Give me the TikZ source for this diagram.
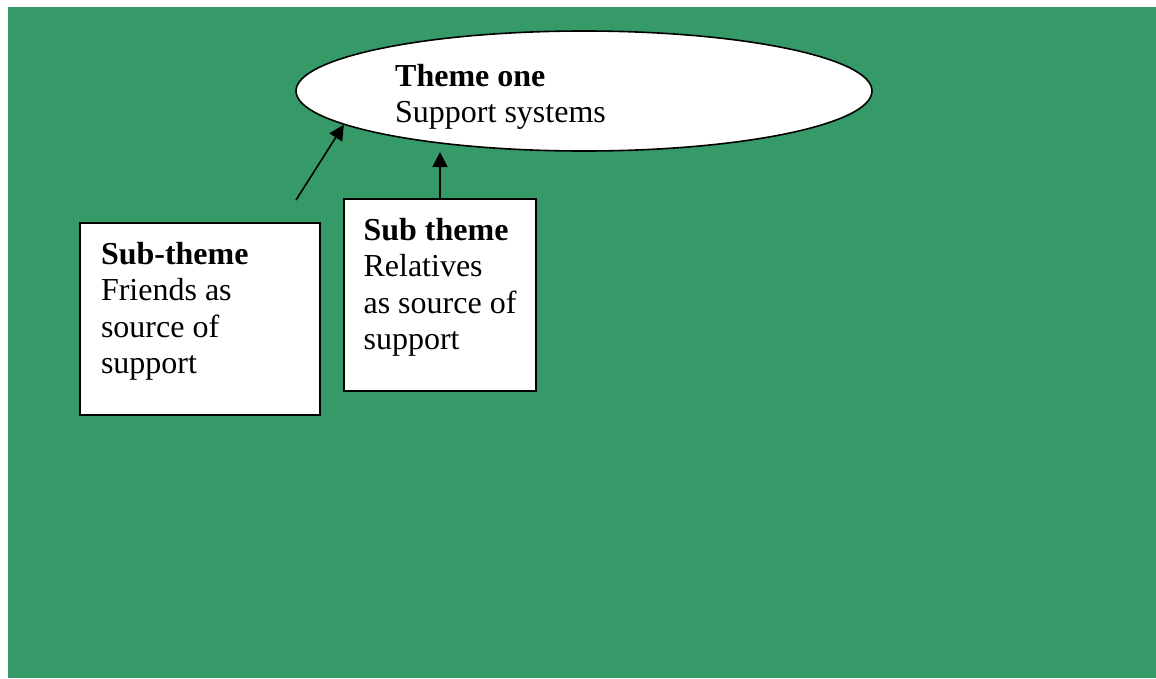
\documentclass[tikz,border=0pt]{standalone}
\usepackage{fontspec}
\setmainfont{Liberation Serif}
\usetikzlibrary{shapes.geometric,arrows.meta}

\definecolor{bggreen}{RGB}{53,154,104}
\newcommand{\boxfoot}{\rule[-22pt]{0pt}{0pt}}

\tikzset{
  theme/.style={draw, line width=1.6pt, fill=white, ellipse,
    minimum width=576pt, minimum height=120pt, inner sep=0pt},
  themetext/.style={inner sep=0pt, align=left,
    font=\fontsize{32}{36.5}\selectfont},
  subbox/.style={draw, line width=1.8pt, fill=white, rectangle, align=flush left,
    inner xsep=21pt, inner ysep=0pt, minimum height=192pt,
    font=\fontsize{32}{36.5}\selectfont},
  link/.style={line width=1.6pt, -{Triangle[length=15pt,width=15pt]}}
}

\begin{document}
\begin{tikzpicture}[x=1pt,y=-1pt]
\useasboundingbox (0,0) rectangle (1156,678);
\fill[bggreen] (8,7) rectangle (1156,678);

\node[theme] (themeone) at (584,91) {};
\node[themetext, anchor=north west] (themelabel) at (395,64)
	{\textbf{Theme one}\\Support systems};

\node[subbox, text width=198pt, minimum width=240pt] (friends) at (200,319)
	{\textbf{Sub-theme}\\Friends as\\source of\\support\boxfoot};
\node[subbox, inner xsep=0pt, minimum width=192pt] (relatives) at (440,295)
	{\textbf{Sub theme}\\Relatives\\as source of\\support\boxfoot};

\coordinate (friendstail) at (296,200);
\coordinate (relativestip) at (440,152);
\draw[link] (friendstail) -- (themeone.188);
\draw[link] (relatives.north) -- (relativestip);
\end{tikzpicture}
\end{document}
